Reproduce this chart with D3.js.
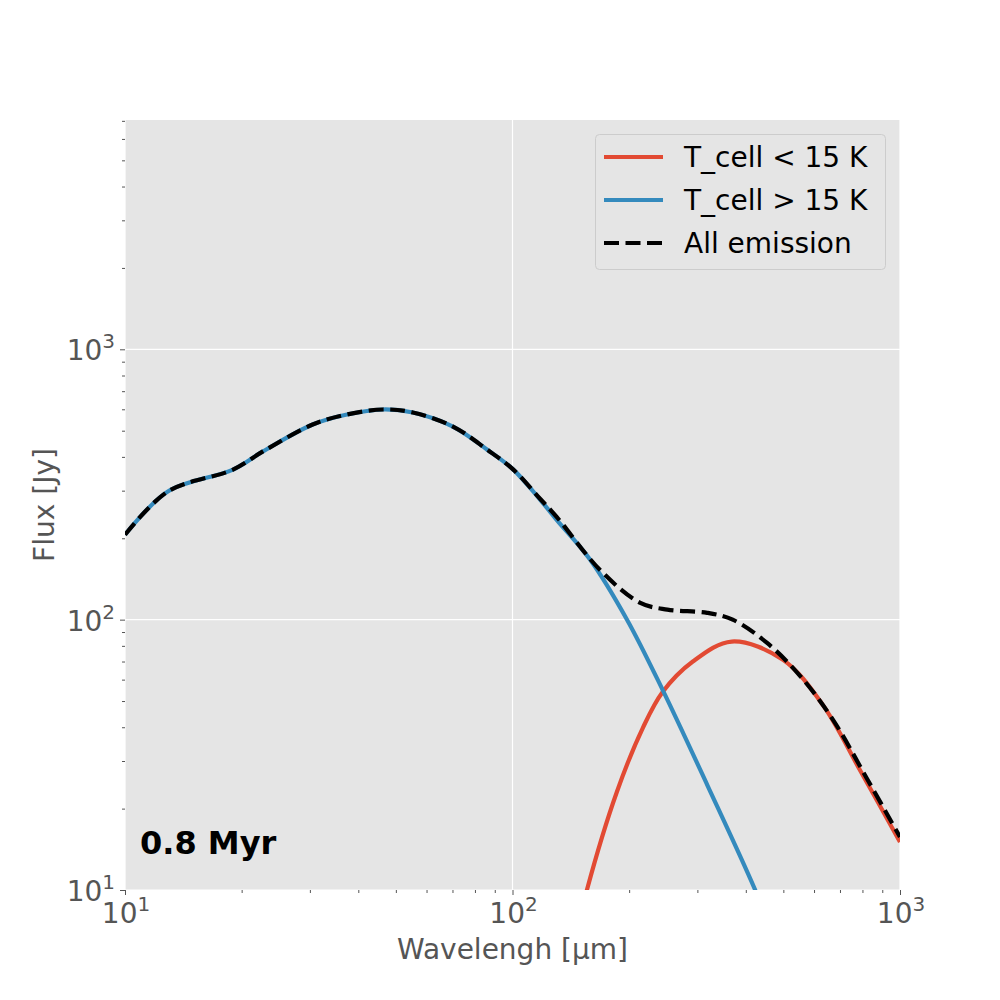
<!DOCTYPE html>
<html><head><meta charset="utf-8">
<script src="https://cdn.jsdelivr.net/npm/d3@7"></script>
<style>body{margin:0;background:#fff;} svg{display:block;}</style>
</head><body>
<svg id="chart" width="1000" height="1000"></svg>
<script>
// ---- data ----
const coldLambda = [145, 155.6, 186, 217, 244, 292, 368, 499, 632, 788, 1000];
const coldFlux   = [6.5, 10, 23.1, 39.8, 54, 70, 83, 71, 48.4, 27.8, 15.05];

const warmLambda = [10, 12.9, 19, 22.7, 30.5, 37.4, 46.3, 55.3, 70.2, 85.9, 100.5, 117.8, 130, 158.5, 197.5, 244, 318, 423, 500];
const warmFlux   = [206, 298, 359, 419, 527, 574, 599, 584, 518, 426, 359, 278, 234, 167, 100, 55, 24.5, 10, 5.5];

const allLambda = [10, 12.9, 19, 22.7, 30.5, 37.4, 46.3, 55.3, 70.2, 85.9, 100.5, 117.8, 130, 168, 213, 251, 318, 370, 454, 552, 671, 822, 1000];
const allFlux   = [206, 298, 359, 419, 527, 574, 599, 584, 518, 426, 359, 280, 240, 153, 115.6, 108.9, 106, 100, 82, 62, 42.7, 25.8, 15.7];

const seriesNames = ["T_cell < 15 K", "T_cell > 15 K", "All emission"];
const xMajorTicks = [10, 100, 1000];
const yMajorTicks = [10, 100, 1000];
const xDomain = [10, 1000];
const yDomain = [10, 7050];
const annotation = "0.8 Myr";
const xLabel = "Wavelengh [µm]";
const yLabel = "Flux [Jy]";

// ---- layout ----
const L = 125, R = 900, T = 120, B = 890;
const svg = d3.select("#chart");
const x = d3.scaleLog().domain(xDomain).range([L, R]);
const y = d3.scaleLog().domain(yDomain).range([B, T]);
const red = "#E24A33", blue = "#348ABD", tickCol = "#555555";
const font = "DejaVu Sans, sans-serif";
const LW = 4.2, DASH = "15,6.5";

svg.append("rect").attr("x", L).attr("y", T).attr("width", R - L).attr("height", B - T).attr("fill", "#E5E5E5");

function minorTicks(dom) {
  const out = [];
  for (let d = Math.pow(10, Math.floor(Math.log10(dom[0]))); d < dom[1]; d *= 10)
    for (let k = 2; k <= 9; k++) { const v = k * d; if (v > dom[0] && v < dom[1]) out.push(v); }
  return out;
}

// grid
const g = svg.append("g");
g.selectAll(".gx").data(xMajorTicks).join("line")
  .attr("x1", d => x(d)).attr("x2", d => x(d)).attr("y1", T).attr("y2", B)
  .attr("stroke", "#fff").attr("stroke-width", 1.2);
g.selectAll(".gy").data(yMajorTicks).join("line")
  .attr("y1", d => y(d)).attr("y2", d => y(d)).attr("x1", L).attr("x2", R)
  .attr("stroke", "#fff").attr("stroke-width", 1.2);

// axes ticks
const xAxisMajor = d3.axisBottom(x).tickValues(xMajorTicks).tickSize(5).tickFormat("");
const xAxisMinor = d3.axisBottom(x).tickValues(minorTicks(xDomain)).tickSize(3).tickFormat("");
const yAxisMajor = d3.axisLeft(y).tickValues(yMajorTicks).tickSize(5).tickFormat("");
const yAxisMinor = d3.axisLeft(y).tickValues(minorTicks(yDomain)).tickSize(3).tickFormat("");
[[xAxisMajor, `translate(0,${B})`], [xAxisMinor, `translate(0,${B})`],
 [yAxisMajor, `translate(${L},0)`], [yAxisMinor, `translate(${L},0)`]].forEach(([ax, tr]) => {
  const a = svg.append("g").attr("transform", tr).call(ax);
  a.select(".domain").remove();
  a.selectAll("line").attr("stroke", tickCol).attr("stroke-width", 1);
});

// tick labels with superscripts
function expLabel(sel) {
  sel.each(function(d) {
    const t = d3.select(this);
    t.append("tspan").text("10");
    t.append("tspan").attr("font-size", 20).attr("dy", -12).text(Math.round(Math.log10(d)));
  });
}
svg.append("g").selectAll("text").data(xMajorTicks).join("text")
  .attr("x", d => x(d) + 1).attr("y", 923).attr("text-anchor", "middle")
  .attr("font-family", font).attr("font-size", 28).attr("fill", tickCol).call(expLabel);
svg.append("g").selectAll("text").data(yMajorTicks).join("text")
  .attr("x", 115).attr("y", d => y(d) + 11).attr("text-anchor", "end")
  .attr("font-family", font).attr("font-size", 28).attr("fill", tickCol).call(expLabel);

// axis labels
svg.append("text").attr("x", (L + R) / 2).attr("y", 959).attr("text-anchor", "middle")
  .attr("font-family", font).attr("font-size", 28).attr("fill", tickCol).text(xLabel);
svg.append("text").attr("transform", `translate(54,${(T + B) / 2}) rotate(-90)`).attr("text-anchor", "middle")
  .attr("font-family", font).attr("font-size", 28).attr("fill", tickCol).text(yLabel);

// clip
svg.append("defs").append("clipPath").attr("id", "clip").append("rect")
  .attr("x", L).attr("y", T).attr("width", R - L).attr("height", B - T);
const plot = svg.append("g").attr("clip-path", "url(#clip)");

const line = d3.line().x(d => x(d[0])).y(d => y(d[1])).curve(d3.curveCatmullRom.alpha(0.5));
plot.append("path").datum(d3.zip(coldLambda, coldFlux)).attr("d", line)
  .attr("fill", "none").attr("stroke", red).attr("stroke-width", LW);
plot.append("path").datum(d3.zip(warmLambda, warmFlux)).attr("d", line)
  .attr("fill", "none").attr("stroke", blue).attr("stroke-width", LW);
plot.append("path").datum(d3.zip(allLambda, allFlux)).attr("d", line)
  .attr("fill", "none").attr("stroke", "#000").attr("stroke-width", LW).attr("stroke-dasharray", DASH);

// annotation
svg.append("text").attr("x", 140).attr("y", 854).attr("font-family", font).attr("font-weight", "bold")
  .attr("font-size", 32).attr("fill", "#000").text(annotation);

// legend
const lg = svg.append("g");
lg.append("rect").attr("x", 595.5).attr("y", 134.5).attr("width", 290).attr("height", 135).attr("rx", 4)
  .attr("fill", "#E5E5E5").attr("stroke", "#cccccc").attr("stroke-width", 1);
const legendColors = [red, blue, "#000"];
const legendY = [157, 200, 243];
seriesNames.forEach((name, i) => {
  lg.append("line").attr("x1", 604).attr("x2", 663).attr("y1", legendY[i]).attr("y2", legendY[i])
    .attr("stroke", legendColors[i]).attr("stroke-width", LW)
    .attr("stroke-dasharray", i === 2 ? DASH : null);
  lg.append("text").attr("x", 684).attr("y", legendY[i] + 10).attr("font-family", font)
    .attr("font-size", 28).attr("fill", "#000").text(name);
});
</script>
</body></html>
